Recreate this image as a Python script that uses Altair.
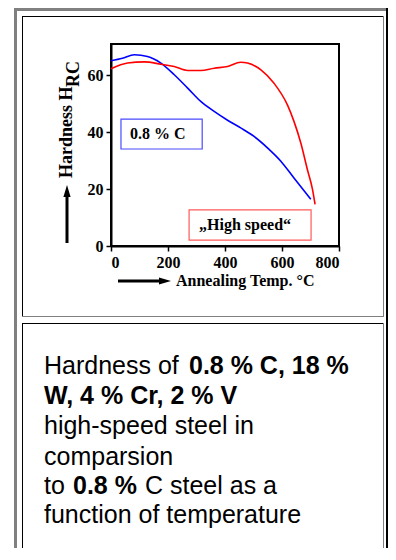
import altair as alt
import pandas as pd

# ---------------- data ----------------
series_names = ["0.8 % C", "High speed"]
series_colors = ["#0000ff", "#ff0000"]

temp_c = [0, 40, 82, 128, 175, 222, 269, 315, 362, 409, 455, 502, 549, 596, 642, 701]
hrc_c = [65.1, 66.0, 67.2, 66.6, 64.3, 60.2, 55.5, 50.8, 47.3, 44.2, 41.5, 38.5, 34.5, 29.8, 23.9, 16.4]

temp_hs = [0, 58, 117, 175, 222, 269, 315, 362, 409, 455, 479, 526, 572, 619, 642, 666, 689, 707, 716]
hrc_hs = [62.3, 64.3, 64.7, 63.9, 63.1, 61.7, 61.7, 62.5, 63.1, 64.6, 64.3, 61.9, 57.2, 49.6, 43.8, 36.2, 26.9, 19.9, 14.6]

x_ticks = [0, 200, 400, 600, 800]
y_ticks = [0, 20, 40, 60]
x_domain = [0, 800]
y_domain = [0, 71]

y_title_main = "Hardness H"
y_title_sub = "RC"
x_title = "Annealing Temp. °C"
label_c = "0.8 % C"
label_hs = "\u201eHigh speed\u201c"

caption_normal = ["Hardness of", "high-speed steel in", "comparsion", "to", "C steel as a", "function of temperature"]
caption_bold = ["0.8 % C, 18 %", "W, 4 % Cr, 2 % V", "0.8 %"]

# ---------------- layout (page pixels) ----------------
OX, OY = 111, 44          # plot-area origin on the page
W, H = 228, 202           # plot-area size
PAGE_W, PAGE_H = 380, 540

def px(v):
    return v - OX

def py(v):
    return v - OY

line_df = pd.DataFrame(
    {"temp": temp_c + temp_hs,
     "hrc": hrc_c + hrc_hs,
     "series": [series_names[0]] * len(temp_c) + [series_names[1]] * len(temp_hs)}
)

xs = alt.Scale(domain=x_domain, nice=False, zero=False)
ys = alt.Scale(domain=y_domain, nice=False, zero=False)

axis_common = dict(
    title=None, grid=False, domainColor="black", domainWidth=2,
    tickColor="black", tickWidth=1.5, tickSize=5,
    labelFont="Liberation Serif", labelFontWeight="bold", labelFontSize=16,
    labelColor="black", labelPadding=3,
)
x_axis = alt.Axis(values=x_ticks, **axis_common)
y_axis = alt.Axis(values=y_ticks, **axis_common)

lines = alt.Chart(line_df).mark_line(strokeWidth=1.6, interpolate="monotone").encode(
    x=alt.X("temp:Q", scale=xs, axis=x_axis),
    y=alt.Y("hrc:Q", scale=ys, axis=y_axis),
    color=alt.Color("series:N", scale=alt.Scale(domain=series_names, range=series_colors), legend=None),
    detail="series:N",
)

# legend boxes in data coordinates
box_df = pd.DataFrame({
    "temp": [35, 274], "temp2": [320, 702],
    "hrc": [34.1, 2.1], "hrc2": [44.6, 12.7],
    "col": ["#4a4aff", "#ff5a5a"],
})
boxes = alt.Chart(box_df).mark_rect(fill=None, strokeWidth=1.2).encode(
    x=alt.X("temp:Q", scale=xs, axis=x_axis), x2="temp2:Q",
    y=alt.Y("hrc:Q", scale=ys, axis=y_axis), y2="hrc2:Q",
    stroke=alt.Stroke("col:N", scale=None),
)
box_text_df = pd.DataFrame({"temp": [67, 309], "hrc": [39.4, 7.4], "t": [label_c, label_hs]})
box_texts = alt.Chart(box_text_df).mark_text(
    font="Liberation Serif", fontWeight="bold", fontSize=16, align="left", baseline="middle", color="black"
).encode(
    x=alt.X("temp:Q", scale=xs, axis=x_axis), y=alt.Y("hrc:Q", scale=ys, axis=y_axis), text="t:N"
)

# page frames (table borders)
GRAY = "#808080"
BOT = 8 + PAGE_H
frames = [
    (14, 17, 8, BOT, GRAY), (14, 388, 8, 11, GRAY), (386, 388, 8, BOT, "#000000"),
    (22, 384, 16, 17, "#000000"), (22, 23, 16, 317, "#000000"),
    (383, 384, 16, 317, GRAY), (22, 384, 316, 317, GRAY),
    (22, 384, 323, 324, "#000000"), (22, 23, 323, BOT, "#000000"),
    (383, 384, 323, BOT, GRAY),
]
frame_df = pd.DataFrame({
    "x0": [px(f[0]) for f in frames], "x1": [px(f[1]) for f in frames],
    "y0": [py(f[2]) for f in frames], "y1": [py(f[3]) for f in frames],
    "col": [f[4] for f in frames],
})
frame_layer = alt.Chart(frame_df).mark_rect(strokeWidth=0).encode(
    x=alt.X("x0:Q", scale=None), x2="x1:Q",
    y=alt.Y("y0:Q", scale=None), y2="y1:Q",
    fill=alt.Fill("col:N", scale=None),
)

# arrows
shaft_df = pd.DataFrame({
    "x0": [px(67), px(118)], "x1": [px(67), px(162)],
    "y0": [py(243), py(281)], "y1": [py(194), py(281)],
})
shafts = alt.Chart(shaft_df).mark_rule(strokeWidth=3, color="black").encode(
    x=alt.X("x0:Q", scale=None), x2="x1:Q",
    y=alt.Y("y0:Q", scale=None), y2="y1:Q",
)
head_up = alt.Chart(pd.DataFrame({"x": [px(67)], "y": [py(191)]})).mark_point(
    shape="M0,-1L0.6,1L-0.6,1Z", size=144, filled=True, color="black", opacity=1, strokeWidth=0
).encode(x=alt.X("x:Q", scale=None), y=alt.Y("y:Q", scale=None))
head_right = alt.Chart(pd.DataFrame({"x": [px(165)], "y": [py(281)]})).mark_point(
    shape="M1,0L-1,-0.6L-1,0.6Z", size=144, filled=True, color="black", opacity=1, strokeWidth=0
).encode(x=alt.X("x:Q", scale=None), y=alt.Y("y:Q", scale=None))

# axis titles
ytitle_df = pd.DataFrame({"x": [px(67), px(74)], "y": [py(178), py(87)], "t": [y_title_main, y_title_sub]})
ytitle = alt.Chart(ytitle_df).mark_text(
    font="Liberation Serif", fontWeight="bold", fontSize=18, angle=270,
    align="left", baseline="middle", color="black"
).encode(x=alt.X("x:Q", scale=None), y=alt.Y("y:Q", scale=None), text="t:N")
xtitle = alt.Chart(pd.DataFrame({"x": [px(176)], "y": [py(286)], "t": [x_title]})).mark_text(
    font="Liberation Serif", fontWeight="bold", fontSize=16, align="left", baseline="alphabetic", color="black"
).encode(x=alt.X("x:Q", scale=None), y=alt.Y("y:Q", scale=None), text="t:N")

# caption in the lower cell
cap_n_pos = [(44, 374), (44, 434), (44, 465), (44, 494), (145, 494), (44, 523)]
cap_b_pos = [(189, 374), (44, 404), (73, 494)]
cap_n_df = pd.DataFrame({"x": [px(p[0]) for p in cap_n_pos], "y": [py(p[1]) for p in cap_n_pos], "t": caption_normal})
cap_b_df = pd.DataFrame({"x": [px(p[0]) for p in cap_b_pos], "y": [py(p[1]) for p in cap_b_pos], "t": caption_bold})
cap_n = alt.Chart(cap_n_df).mark_text(
    font="Liberation Sans", fontSize=25, align="left", baseline="alphabetic", color="black"
).encode(x=alt.X("x:Q", scale=None), y=alt.Y("y:Q", scale=None), text="t:N")
cap_b = alt.Chart(cap_b_df).mark_text(
    font="Liberation Sans", fontWeight="bold", fontSize=25, align="left", baseline="alphabetic", color="black"
).encode(x=alt.X("x:Q", scale=None), y=alt.Y("y:Q", scale=None), text="t:N")

chart = alt.layer(
    frame_layer, lines, boxes, box_texts, shafts, head_up, head_right, ytitle, xtitle, cap_n, cap_b
).properties(
    width=W, height=H,
    autosize=alt.AutoSizeParams(type="none"),
    padding={"left": OX - 8, "top": OY - 8, "right": PAGE_W - (OX - 8) - W, "bottom": PAGE_H - (OY - 8) - H},
    background="white",
).configure_view(stroke="black", strokeWidth=2)

chart.save("out.html", embed_options={"renderer": "svg", "actions": False})
